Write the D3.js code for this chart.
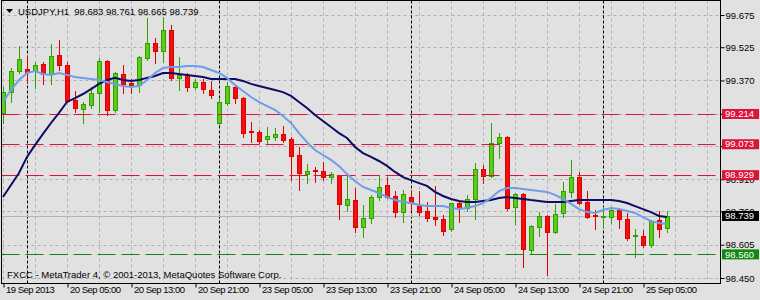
<!DOCTYPE html>
<html><head><meta charset="utf-8">
<script src="https://cdn.jsdelivr.net/npm/d3@7/dist/d3.min.js"></script>
<style>html,body{margin:0;padding:0;background:#e1e1e1;}svg{display:block;}</style>
</head><body>
<svg id="c" width="760" height="300"></svg>
<script>
const symbolTitle = "USDJPY,H1";
const lastOHLC = ["98.683", "98.761", "98.665", "98.739"];
const open = [99.219, 99.316, 99.414, 99.423, 99.414, 99.447, 99.400, 99.489, 99.442, 99.279,
 99.237, 99.256, 99.312, 99.461, 99.233, 99.400, 99.358, 99.349, 99.475, 99.545,
 99.507, 99.605, 99.382, 99.396, 99.340, 99.363, 99.326, 99.172, 99.265, 99.340,
 99.288, 99.135, 99.130, 99.097, 99.107, 99.121, 99.097, 99.023, 98.934, 98.953,
 98.948, 98.920, 98.930, 98.790, 98.813, 98.688, 98.729, 98.827, 98.883, 98.832,
 98.757, 98.827, 98.785, 98.762, 98.734, 98.725, 98.678, 98.799, 98.776, 98.818,
 98.958, 98.925, 99.079, 99.107, 98.781, 98.841, 98.580, 98.688, 98.739, 98.664,
 98.753, 98.851, 98.920, 98.804, 98.743, 98.734, 98.734, 98.767, 98.725, 98.646,
 98.646, 98.604, 98.720, 98.683];
const high = [99.340, 99.428, 99.531, 99.484, 99.456, 99.456, 99.540, 99.559, 99.456, 99.321,
 99.270, 99.340, 99.475, 99.465, 99.410, 99.442, 99.377, 99.484, 99.661, 99.568,
 99.666, 99.628, 99.479, 99.405, 99.377, 99.377, 99.368, 99.288, 99.363, 99.344,
 99.293, 99.177, 99.139, 99.153, 99.149, 99.158, 99.107, 99.060, 98.981, 98.967,
 98.990, 98.944, 98.930, 98.925, 98.869, 98.790, 98.837, 98.930, 98.920, 98.855,
 98.860, 98.860, 98.855, 98.804, 98.879, 98.743, 98.799, 98.804, 98.837, 98.986,
 98.976, 99.172, 99.125, 99.111, 98.846, 98.846, 98.697, 98.757, 98.743, 98.795,
 98.897, 99.000, 98.944, 98.855, 98.767, 98.781, 98.781, 98.776, 98.753, 98.678,
 98.674, 98.720, 98.762, 98.761];
const low = [99.172, 99.270, 99.405, 99.358, 99.335, 99.354, 99.354, 99.419, 99.270, 99.223,
 99.172, 99.242, 99.223, 99.209, 99.223, 99.312, 99.312, 99.316, 99.465, 99.451,
 99.456, 99.372, 99.326, 99.321, 99.330, 99.312, 99.288, 99.167, 99.256, 99.265,
 99.107, 99.083, 99.079, 99.079, 99.093, 99.083, 98.906, 98.860, 98.892, 98.897,
 98.906, 98.892, 98.725, 98.762, 98.664, 98.641, 98.706, 98.813, 98.823, 98.734,
 98.711, 98.767, 98.743, 98.715, 98.697, 98.650, 98.669, 98.711, 98.762, 98.725,
 98.892, 98.920, 99.009, 98.767, 98.701, 98.501, 98.562, 98.646, 98.464, 98.660,
 98.734, 98.827, 98.795, 98.729, 98.678, 98.688, 98.706, 98.683, 98.627, 98.548,
 98.594, 98.594, 98.641, 98.665];
const close = [99.316, 99.414, 99.470, 99.410, 99.442, 99.400, 99.484, 99.442, 99.274, 99.242,
 99.260, 99.312, 99.461, 99.233, 99.405, 99.354, 99.349, 99.479, 99.545, 99.507,
 99.605, 99.382, 99.396, 99.340, 99.363, 99.330, 99.302, 99.270, 99.344, 99.288,
 99.125, 99.130, 99.088, 99.111, 99.121, 99.093, 99.018, 98.939, 98.948, 98.948,
 98.920, 98.934, 98.795, 98.818, 98.688, 98.729, 98.827, 98.874, 98.827, 98.757,
 98.841, 98.799, 98.757, 98.729, 98.725, 98.669, 98.799, 98.776, 98.818, 98.958,
 98.925, 99.079, 99.107, 98.776, 98.841, 98.585, 98.692, 98.739, 98.664, 98.748,
 98.855, 98.920, 98.799, 98.734, 98.739, 98.739, 98.767, 98.725, 98.636, 98.650,
 98.604, 98.715, 98.678, 98.739];
const maFast = [99.270, 99.326, 99.372, 99.405, 99.414, 99.400, 99.396, 99.405, 99.396, 99.386,
 99.382, 99.377, 99.372, 99.363, 99.354, 99.344, 99.340, 99.344, 99.372, 99.405,
 99.428, 99.433, 99.433, 99.437, 99.437, 99.433, 99.419, 99.405, 99.382, 99.349,
 99.321, 99.293, 99.270, 99.251, 99.233, 99.205, 99.172, 99.125, 99.083, 99.046,
 99.023, 99.000, 98.972, 98.934, 98.902, 98.874, 98.860, 98.846, 98.827, 98.813,
 98.804, 98.799, 98.790, 98.785, 98.785, 98.785, 98.776, 98.771, 98.776, 98.785,
 98.799, 98.823, 98.855, 98.869, 98.869, 98.865, 98.860, 98.855, 98.851, 98.837,
 98.818, 98.795, 98.771, 98.757, 98.753, 98.767, 98.776, 98.771, 98.762, 98.753,
 98.734, 98.715, 98.706, 98.701];
const maSlow = [98.827, 98.883, 98.939, 99.014, 99.069, 99.121, 99.172, 99.219, 99.270, 99.288,
 99.307, 99.330, 99.354, 99.372, 99.382, 99.372, 99.368, 99.372, 99.382, 99.391,
 99.405, 99.405, 99.400, 99.396, 99.391, 99.386, 99.377, 99.377, 99.377, 99.377,
 99.368, 99.354, 99.344, 99.335, 99.326, 99.316, 99.298, 99.270, 99.242, 99.209,
 99.181, 99.153, 99.125, 99.102, 99.060, 99.032, 99.014, 98.995, 98.972, 98.944,
 98.920, 98.906, 98.892, 98.879, 98.851, 98.832, 98.818, 98.809, 98.804, 98.804,
 98.809, 98.813, 98.823, 98.827, 98.823, 98.818, 98.813, 98.809, 98.804, 98.804,
 98.804, 98.809, 98.813, 98.813, 98.813, 98.813, 98.813, 98.809, 98.799, 98.785,
 98.771, 98.757, 98.739, 98.734];
const priceTicks = [99.675, 99.525, 99.370, 99.215, 99.065, 98.910, 98.760, 98.605, 98.450];
const levelsRed = [99.214, 99.073, 98.929];
const levelsGreen = [98.560];
const currentPrice = 98.739;
const timeLabels = ["19 Sep 2013", "20 Sep 05:00", "20 Sep 13:00", "20 Sep 21:00", "23 Sep 05:00",
 "23 Sep 13:00", "23 Sep 21:00", "24 Sep 05:00", "24 Sep 13:00", "24 Sep 21:00", "25 Sep 05:00"];
const timeLabelBars = [0, 8, 16, 24, 32, 40, 48, 56, 64, 72, 80];
const gridBars = [0, 4, 8, 12, 16, 20, 24, 28, 32, 36, 40, 44, 48, 52, 56, 60, 64, 68, 72, 76, 80, 84, 88];
const daySeparatorBars = [3, 27, 51, 75];
const copyright = "FXCC - MetaTrader 4, \u00a9 2001-2013, MetaQuotes Software Corp.";

const FONT = "'Liberation Sans', Arial, sans-serif";
const FS = 9.5;
const svg = d3.select("#c");
const L = 1.5, R = 720.5, T = 0.5, B = 283.5;
const x = d3.scaleLinear().domain([0, 83]).range([3, 667]);
const y = d3.scaleLinear().domain([98.450, 99.675]).range([278, 15]);
const px = v => Math.round(v);

svg.append("rect").attr("width", 760).attr("height", 300).attr("fill", "#e1e1e1");
svg.append("defs").append("clipPath").attr("id", "clip")
  .append("rect").attr("x", L).attr("y", T).attr("width", R - L).attr("height", B - T);
const plot = svg.append("g").attr("clip-path", "url(#clip)");

// grid
plot.append("g").selectAll("line").data(priceTicks).join("line")
  .attr("x1", L).attr("x2", R).attr("y1", d => px(y(d)) + 0.5).attr("y2", d => px(y(d)) + 0.5)
  .attr("stroke", "#b0b0b0").attr("stroke-dasharray", "3,3");
plot.append("g").selectAll("line").data(gridBars).join("line")
  .attr("x1", d => x(d) + 0.5).attr("x2", d => x(d) + 0.5).attr("y1", T).attr("y2", B)
  .attr("stroke", "#b0b0b0").attr("stroke-dasharray", "3,3");
// day separators
plot.append("g").selectAll("line").data(daySeparatorBars).join("line")
  .attr("x1", d => x(d) + 0.5).attr("x2", d => x(d) + 0.5).attr("y1", T).attr("y2", B)
  .attr("stroke", "#000").attr("stroke-dasharray", "3,2");
// current price line
plot.append("line").attr("x1", L).attr("x2", R)
  .attr("y1", px(y(currentPrice)) + 0.5).attr("y2", px(y(currentPrice)) + 0.5)
  .attr("stroke", "#b4b4b4");

// candles
const bars = d3.range(open.length).map(i => ({i, o: open[i], h: high[i], l: low[i], c: close[i]}));
const cg = plot.append("g");
const up = "#5ccc1c", upS = "#34a000", dn = "#f01010", dnS = "#e00000";
cg.selectAll("line").data(bars).join("line")
  .attr("x1", d => x(d.i) + 0.5).attr("x2", d => x(d.i) + 0.5)
  .attr("y1", d => px(y(d.h))).attr("y2", d => px(y(d.l)) + 1)
  .attr("stroke", d => d.c >= d.o ? upS : dnS);
cg.selectAll("rect").data(bars).join("rect")
  .attr("x", d => x(d.i) - 1.5).attr("width", 4)
  .attr("y", d => px(y(Math.max(d.o, d.c))) + 0.5)
  .attr("height", d => Math.max(0, px(y(Math.min(d.o, d.c))) - px(y(Math.max(d.o, d.c)))))
  .attr("fill", d => d.c >= d.o ? up : dn)
  .attr("stroke", d => d.c >= d.o ? upS : dnS);

// level lines
plot.append("g").selectAll("line").data(levelsRed).join("line")
  .attr("x1", L).attr("x2", R).attr("y1", d => px(y(d)) + 0.5).attr("y2", d => px(y(d)) + 0.5)
  .attr("stroke", "#dc143c").attr("stroke-dasharray", "18,6");
plot.append("g").selectAll("line").data(levelsGreen).join("line")
  .attr("x1", L).attr("x2", R).attr("y1", d => px(y(d)) + 0.5).attr("y2", d => px(y(d)) + 0.5)
  .attr("stroke", "#118811").attr("stroke-dasharray", "18,6");

// moving averages
const line = d3.line().x((d, i) => x(i)).y(d => y(d));
plot.append("path").datum(maSlow).attr("d", line).attr("fill", "none")
  .attr("stroke", "#0c0c66").attr("stroke-width", 2);
plot.append("path").datum(maFast).attr("d", line).attr("fill", "none")
  .attr("stroke", "#6d9eea").attr("stroke-width", 2);

// border
svg.append("rect").attr("x", L).attr("y", T).attr("width", R - L).attr("height", B - T)
  .attr("fill", "none").attr("stroke", "#000");

// right axis (labels hidden completely under level boxes are not drawn as text)
const boxed = levelsRed.concat(levelsGreen, [currentPrice]);
const ay = svg.append("g").attr("transform", `translate(${R},0)`)
  .call(d3.axisRight(y).tickValues(priceTicks)
    .tickFormat(d => boxed.some(b => Math.abs(y(b) - y(d)) < 3) ? "" : d3.format(".3f")(d))
    .tickSize(4).tickPadding(1));
ay.select(".domain").remove();
ay.selectAll("text").attr("font-family", FONT).attr("font-size", FS).attr("fill", "#000");
ay.selectAll("line").attr("stroke", "#000");

// level boxes
function box(v, color) {
  const yy = y(v);
  svg.append("rect").attr("x", 722).attr("y", yy - 5).attr("width", 37).attr("height", 10).attr("fill", color);
  svg.append("text").attr("x", 725).attr("y", yy).attr("dy", "0.34em")
    .attr("font-family", FONT).attr("font-size", FS).attr("fill", "#fff").text(d3.format(".3f")(v));
}
levelsRed.forEach(v => box(v, "#dc143c"));
levelsGreen.forEach(v => box(v, "#118811"));
box(currentPrice, "#000");

// bottom axis
const ax = svg.append("g").attr("transform", `translate(0.5,${B})`)
  .call(d3.axisBottom(x).tickValues(timeLabelBars).tickFormat((d, i) => timeLabels[i]).tickSize(4).tickPadding(0));
ax.select(".domain").remove();
ax.selectAll("line").attr("stroke", "#000");
ax.selectAll("text").attr("font-family", FONT).attr("font-size", FS).attr("fill", "#000")
  .attr("letter-spacing", -0.5)
  .attr("text-anchor", "start").attr("dx", 2).attr("y", 3);

// header
svg.append("path").attr("d", "M6,9 L13,9 L9.5,13 Z").attr("fill", "#000");
svg.append("text").attr("x", 18).attr("y", 15).attr("font-family", FONT).attr("font-size", FS)
  .attr("fill", "#000").attr("xml:space", "preserve")
  .text(symbolTitle + "  " + lastOHLC.join(" "));
// copyright
svg.append("text").attr("x", 7).attr("y", 278).attr("font-family", FONT).attr("font-size", FS)
  .attr("fill", "#000").text(copyright);
</script>
</body></html>
